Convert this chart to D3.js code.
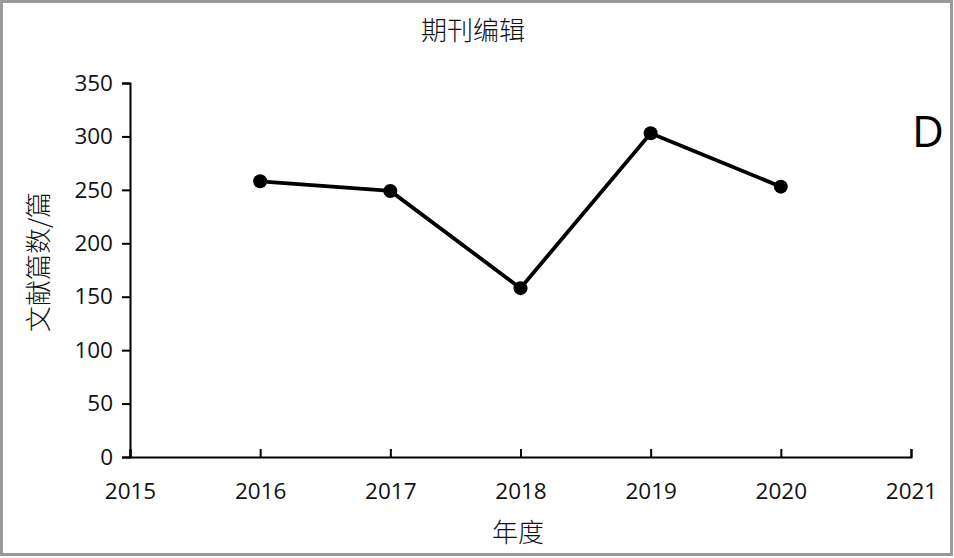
<!DOCTYPE html>
<html><head><meta charset="utf-8">
<script src="https://cdn.jsdelivr.net/npm/d3@7"></script>
<style>body{margin:0;background:#fff}svg{display:block}</style>
</head><body>
<script>
const years = [2016, 2017, 2018, 2019, 2020];
const counts = [258, 249, 158, 303, 253];
const xTicks = [2015, 2016, 2017, 2018, 2019, 2020, 2021];
const yTicks = [0, 50, 100, 150, 200, 250, 300, 350];
const title = "期刊编辑";
const xLabel = "年度";
const yLabel = "文献篇数/篇";
const panelLabel = "D";

const W = 954, H = 558;
const svg = d3.select("body").append("svg").attr("width", W).attr("height", H);
svg.append("rect").attr("x", 1.5).attr("y", 1.5).attr("width", W - 4).attr("height", H - 5)
  .attr("fill", "#fff").attr("stroke", "#9a9a9a").attr("stroke-width", 3);

const x = d3.scaleLinear().domain([2015, 2021]).range([130, 911]);
const y = d3.scaleLinear().domain([0, 350]).range([457, 83]);
const tickFont = "'Open Sans', 'Liberation Sans', sans-serif";
const cjk = "'Noto Sans CJK SC', sans-serif";

const yAxis = svg.append("g").attr("transform", "translate(130,0)")
  .call(d3.axisLeft(y).tickValues(yTicks).tickSize(8).tickPadding(9).tickFormat(d3.format("d")));
const xAxis = svg.append("g").attr("transform", "translate(0,457)")
  .call(d3.axisBottom(x).tickValues(xTicks).tickSize(-8).tickPadding(26).tickFormat(d3.format("d")));
[yAxis, xAxis].forEach(g => {
  g.select(".domain").attr("stroke", "#000").attr("stroke-width", 2);
  g.selectAll(".tick line").attr("stroke", "#000").attr("stroke-width", 2);
  g.selectAll(".tick text").attr("fill", "#111").style("font-family", tickFont).style("font-size", "22.5px");
});

const line = d3.line().x((d, i) => x(years[i])).y(d => y(d));
svg.append("path").datum(counts).attr("d", line).attr("fill", "none")
  .attr("stroke", "#000").attr("stroke-width", 3.8);
svg.selectAll("circle.pt").data(counts).join("circle").attr("class", "pt")
  .attr("cx", (d, i) => x(years[i])).attr("cy", d => y(d)).attr("r", 7).attr("fill", "#000");

svg.append("text").attr("x", 473).attr("y", 40).attr("text-anchor", "middle")
  .style("font-family", cjk).style("font-size", "26px").style("font-weight", "300").attr("fill", "#111").text(title);
svg.append("text").attr("x", 518).attr("y", 542).attr("text-anchor", "middle")
  .style("font-family", cjk).style("font-size", "26px").style("font-weight", "300").attr("fill", "#111").text(xLabel);
svg.append("text").attr("transform", "translate(48,262) rotate(-90)").attr("text-anchor", "middle")
  .style("font-family", cjk).style("font-size", "26px").style("font-weight", "300").attr("fill", "#111").text(yLabel);
svg.append("text").attr("x", 928).attr("y", 147).attr("text-anchor", "middle")
  .style("font-family", tickFont).style("font-size", "44px").attr("fill", "#000").text(panelLabel);
</script>
</body></html>
